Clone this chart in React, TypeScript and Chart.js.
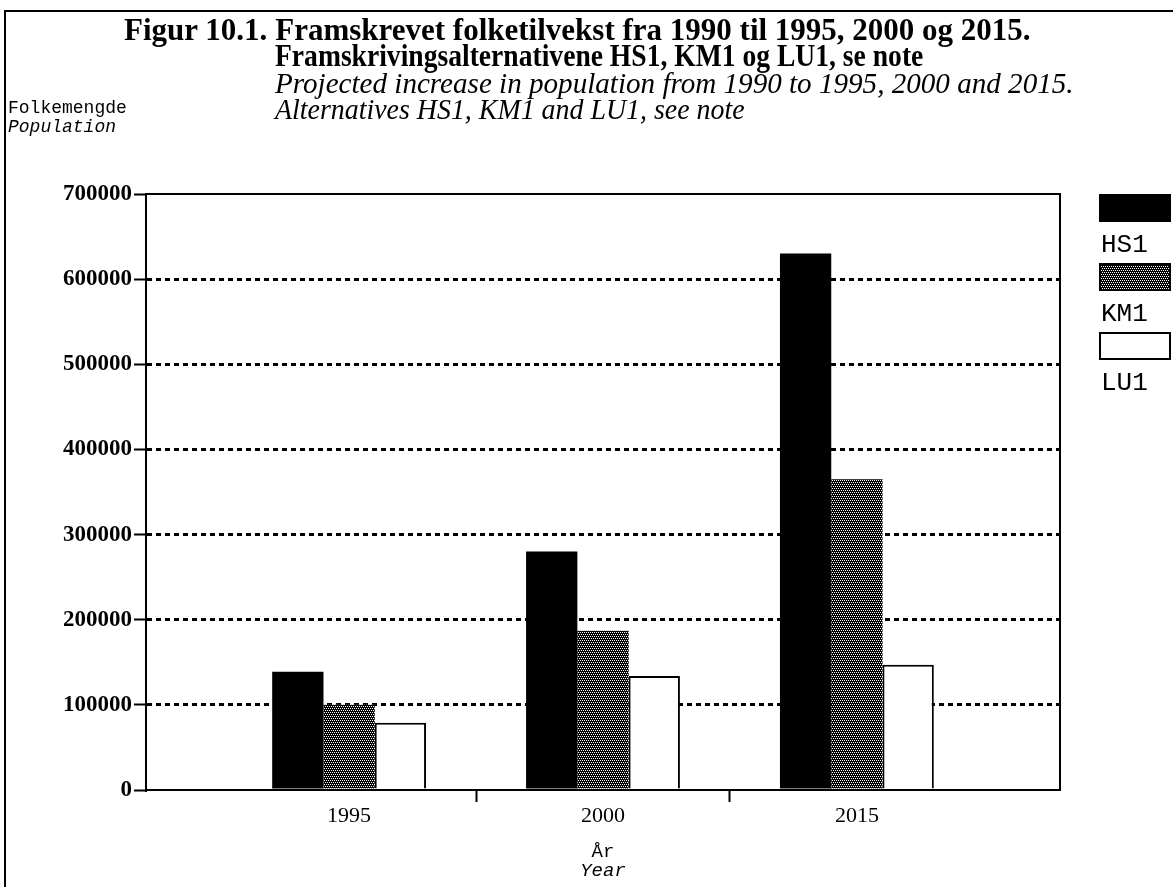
import React, { useEffect, useRef } from 'react';
import { Chart, registerables } from 'chart.js';

Chart.register(...registerables);

// ---- data ----
const categories = ['1995', '2000', '2015'];
const categoryPositions = [1, 2, 3];
const seriesNames = ['HS1', 'KM1', 'LU1'];
const hs1Values = [139000, 280000, 630000];
const km1Values = [100000, 187000, 365000];
const lu1Values = [79000, 134000, 147000];
const yTickValues = [0, 100000, 200000, 300000, 400000, 500000, 600000, 700000];

const figureLabel = 'Figur 10.1.';
const titleNo1 = 'Framskrevet folketilvekst fra 1990 til 1995, 2000 og 2015.';
const titleNo2 = 'Framskrivingsalternativene HS1, KM1 og LU1, se note';
const titleEn1 = 'Projected increase in population from 1990 to 1995, 2000 and 2015.';
const titleEn2 = 'Alternatives HS1, KM1 and LU1, see note';
const yTitleNo = 'Folkemengde';
const yTitleEn = 'Population';
const xTitleNo = 'År';
const xTitleEn = 'Year';

function makeDotPattern(): CanvasPattern | string {
  const c = document.createElement('canvas');
  c.width = 4;
  c.height = 4;
  const g = c.getContext('2d');
  if (!g) return '#444';
  g.fillStyle = '#000';
  g.fillRect(0, 0, 4, 4);
  g.fillStyle = '#fff';
  g.fillRect(0, 0, 1, 1);
  g.fillRect(2, 0, 1, 1);
  g.fillRect(1, 2, 1, 1);
  g.fillRect(3, 2, 1, 1);
  const p = g.createPattern(c, 'repeat');
  return p || '#444';
}

const framePlugin = {
  id: 'frame',
  afterDraw(chart: any) {
    const { ctx, chartArea } = chart;
    ctx.save();
    ctx.strokeStyle = '#000';
    ctx.lineWidth = 2;
    ctx.setLineDash([]);
    ctx.strokeRect(chartArea.left, chartArea.top, chartArea.right - chartArea.left, chartArea.bottom - chartArea.top);
    ctx.restore();
  },
};

const boxLegendPlugin = {
  id: 'boxLegend',
  afterDraw(chart: any) {
    const { ctx, chartArea } = chart;
    const x = chartArea.right + 39;
    const w = 72;
    const h = 28;
    ctx.save();
    chart.data.datasets.forEach((ds: any, i: number) => {
      const top = chartArea.top + i * 69;
      ctx.fillStyle = ds.backgroundColor;
      ctx.fillRect(x, top, w, h);
      ctx.strokeStyle = '#000';
      ctx.lineWidth = 2;
      ctx.strokeRect(x + 1, top + 1, w - 2, h - 2);
      ctx.fillStyle = '#000';
      ctx.font = '26px "Liberation Mono", monospace';
      ctx.textBaseline = 'middle';
      ctx.textAlign = 'left';
      ctx.fillText(ds.label, x + 2, top + 51);
    });
    ctx.restore();
  },
};

export default function App() {
  const canvasRef = useRef<HTMLCanvasElement | null>(null);

  useEffect(() => {
    const canvas = canvasRef.current;
    if (!canvas) return;
    const pattern = makeDotPattern();
    const fills = ['#000000', pattern, '#ffffff'];
    const seriesValues = [hs1Values, km1Values, lu1Values];

    const chart = new Chart(canvas, {
      type: 'bar',
      data: {
        datasets: seriesNames.map((name, i) => ({
          label: name,
          data: seriesValues[i].map((v, j) => ({ x: categoryPositions[j], y: v })),
          backgroundColor: fills[i] as any,
          borderColor: '#000',
          borderWidth: i === 2 ? 2 : 0,
          borderSkipped: 'start',
          categoryPercentage: 0.606,
          barPercentage: 1,
        })),
      },
      options: {
        responsive: false,
        animation: false,
        events: [],
        layout: { padding: { left: 0, top: 194, right: 113, bottom: 0 } },
        plugins: { legend: { display: false }, tooltip: { enabled: false }, title: { display: false } },
        scales: {
          x: {
            type: 'linear',
            min: 0.2,
            max: 3.8,
            offset: false,
            afterBuildTicks: (s: any) => {
              s.ticks = categoryPositions.map((v) => ({ value: v }));
            },
            afterFit: (s: any) => {
              s.height = 97;
            },
            ticks: {
              autoSkip: false,
              maxRotation: 0,
              padding: 1,
              color: '#000',
              font: { family: '"Liberation Serif", serif', size: 22 },
              callback: (v: any) => {
                const idx = categoryPositions.indexOf(Number(v));
                return idx >= 0 ? categories[idx] : '';
              },
            },
            grid: {
              offset: true,
              drawOnChartArea: false,
              color: 'rgba(0,0,0,0)',
              tickLength: 12,
              tickWidth: 2,
              tickColor: (ctx: any) => (ctx.type === 'tick' && ctx.index > 0 ? '#000' : 'rgba(0,0,0,0)'),
            },
            border: { color: '#000', width: 2 },
          },
          y: {
            type: 'linear',
            min: 0,
            max: 700000,
            afterBuildTicks: (s: any) => {
              s.ticks = yTickValues.map((v) => ({ value: v }));
            },
            afterFit: (s: any) => {
              s.width = 146;
            },
            ticks: {
              padding: 2,
              color: '#000',
              font: { family: '"Liberation Serif", serif', size: 23, weight: 'bold' },
              callback: (v: any) => String(v),
            },
            grid: {
              color: (ctx: any) =>
                ctx.tick && (ctx.tick.value === 0 || ctx.tick.value === 700000) ? 'rgba(0,0,0,0)' : '#000',
              lineWidth: 3,
              tickLength: 12,
              tickWidth: 2,
              tickColor: '#000',
              tickBorderDash: [],
            },
            border: { color: '#000', width: 2, dash: [5, 4] },
          },
        },
      },
      plugins: [framePlugin, boxLegendPlugin],
    } as any);

    return () => chart.destroy();
  }, []);

  const serifBold: React.CSSProperties = {
    fontFamily: '"Liberation Serif", serif',
    fontWeight: 'bold',
    fontSize: 31,
    lineHeight: '26px',
    whiteSpace: 'nowrap',
    color: '#000',
    transformOrigin: 'left center',
  };
  const serifItalic: React.CSSProperties = {
    ...serifBold,
    fontWeight: 'normal',
    fontStyle: 'italic',
    fontSize: 30,
  };
  const mono: React.CSSProperties = {
    position: 'absolute',
    fontFamily: '"Liberation Mono", monospace',
    fontSize: 18,
    lineHeight: '20px',
    whiteSpace: 'nowrap',
    color: '#000',
  };

  return (
    <div
      style={{
        position: 'absolute',
        left: 0,
        top: 0,
        width: 1173,
        height: 887,
        overflow: 'hidden',
        background: '#fff',
      }}
    >
      <div
        style={{
          position: 'absolute',
          left: 4,
          top: 10,
          width: 1400,
          height: 1000,
          border: '2px solid #000',
        }}
      />
      <canvas
        ref={canvasRef}
        width={1173}
        height={887}
        style={{ position: 'absolute', left: 0, top: 0, width: 1173, height: 887 }}
      />
      <div style={{ position: 'absolute', left: 124, top: 17, display: 'flex', alignItems: 'flex-start' }}>
        <div style={{ ...serifBold, paddingRight: 8 }}>{figureLabel}</div>
        <div style={{ display: 'flex', flexDirection: 'column', alignItems: 'flex-start' }}>
          <div style={serifBold}>{titleNo1}</div>
          <div style={{ ...serifBold, transform: 'scaleX(0.89)' }}>{titleNo2}</div>
          <div style={{ ...serifItalic, marginTop: 1, transform: 'scaleX(0.97)' }}>{titleEn1}</div>
          <div style={{ ...serifItalic, transform: 'scaleX(0.93)' }}>{titleEn2}</div>
        </div>
      </div>
      <div style={{ ...mono, left: 8, top: 98 }}>{yTitleNo}</div>
      <div style={{ ...mono, left: 8, top: 117, fontStyle: 'italic' }}>{yTitleEn}</div>
      <div style={{ ...mono, left: 603, top: 842, transform: 'translateX(-50%)', fontSize: 19 }}>{xTitleNo}</div>
      <div
        style={{ ...mono, left: 603, top: 861, transform: 'translateX(-50%)', fontSize: 19, fontStyle: 'italic' }}
      >
        {xTitleEn}
      </div>
    </div>
  );
}
